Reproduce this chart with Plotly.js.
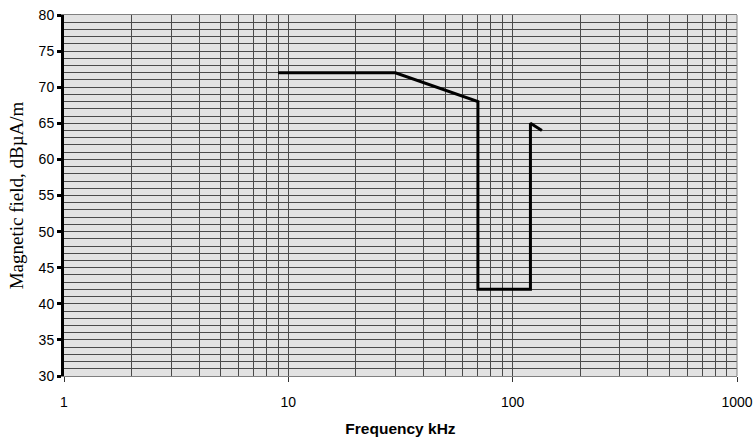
<!DOCTYPE html>
<html><head><meta charset="utf-8">
<script src="https://cdn.plot.ly/plotly-3.0.1.min.js"></script>
<style>html,body{margin:0;padding:0;background:#fff}#c{width:756px;height:445px}</style>
</head><body><div id="c"></div>
<script>
// Limit curve (frequency in kHz, field in dBµA/m)
const freqKHz = [9, 30, 70, 70, 120, 120, 135];
const fieldDb = [72, 72, 68, 42, 42, 65, 64];
const xTickVals = [1, 10, 100, 1000];
const xTickText = ['1', '10', '100', '1000'];
const xMinorVals = [];
[1, 10, 100].forEach(d => { for (let k = 2; k <= 9; k++) xMinorVals.push(k * d); });

const trace = {
  x: freqKHz, y: fieldDb, type: 'scatter', mode: 'lines',
  line: {color: '#000', width: 3}, hoverinfo: 'skip', showlegend: false
};
const grid = '#4a4a4a';
const layout = {
  width: 756, height: 445,
  margin: {l: 64, r: 19, t: 15, b: 69},
  paper_bgcolor: '#fff', plot_bgcolor: '#e2e2e2',
  font: {family: 'Liberation Sans, Arial, sans-serif', size: 13, color: '#000'},
  xaxis: {
    type: 'log', range: [0, 3],
    tickvals: xTickVals, ticktext: xTickText,
    ticks: 'outside', ticklen: 5, tickwidth: 1, tickcolor: '#333',
    ticklabelstandoff: 8,
    showgrid: true, gridcolor: grid, gridwidth: 1,
    minor: {tickvals: xMinorVals, showgrid: true, gridcolor: grid, gridwidth: 1, ticks: ''},
    showline: true, linecolor: '#808080', linewidth: 1, mirror: true,
    zeroline: false, tickfont: {size: 14},
    title: {text: '<b>Frequency kHz</b>', font: {size: 15.5}, standoff: 14}
  },
  yaxis: {
    range: [30, 80], dtick: 5, tick0: 30,
    ticks: 'outside', ticklen: 4, tickwidth: 3, tickcolor: '#000',
    showgrid: true, gridcolor: grid, gridwidth: 1,
    minor: {dtick: 1, showgrid: true, gridcolor: grid, gridwidth: 1, ticks: ''},
    showline: true, linecolor: '#000', linewidth: 3,
    zeroline: false, tickfont: {size: 14},
    title: {text: 'Magnetic field, dBµA/m', font: {family: 'Liberation Serif, Times New Roman, serif', size: 19}, standoff: 10}
  },
  shapes: [{type: 'line', xref: 'paper', yref: 'paper', x0: 1, x1: 1, y0: 0, y1: 1, line: {color: '#808080', width: 1}}]
};
Plotly.newPlot('c', [trace], layout, {displayModeBar: false, staticPlot: true});
</script></body></html>
